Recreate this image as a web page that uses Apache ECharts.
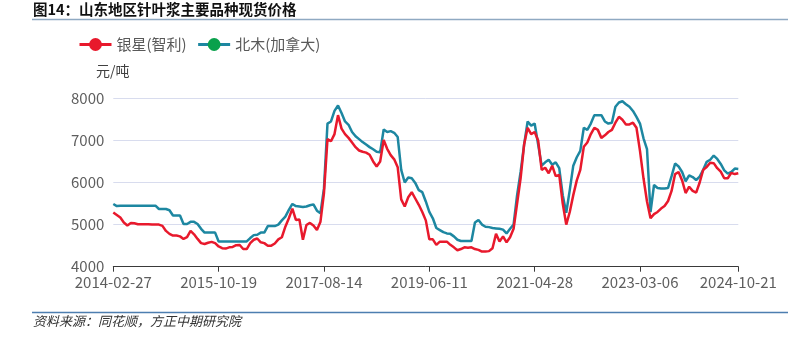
<!DOCTYPE html>
<html>
<head>
<meta charset="utf-8">
<script src="https://cdn.jsdelivr.net/npm/echarts@6/dist/echarts.min.js"></script>
<style>
html,body{margin:0;padding:0;background:#fff;}
#chart{width:788px;height:338px;}
</style>
</head>
<body>
<div id="chart"></div>
<script>
const tickDates = ['2014-02-27','2015-10-19','2017-08-14','2019-06-11','2021-04-28','2023-03-06','2024-10-21'];
const tickIndex = [0,30,60,90,120,150,178];
const yTicks = [4000,5000,6000,7000,8000];

const beimu = [
5490,5440,5450,5450,5450,5450,5450,5450,5450,5450,
5450,5450,5450,5370,5370,5370,5340,5215,5215,5215,
5015,5015,5065,5065,5015,4900,4810,4810,4810,4810,
4600,4600,4600,4600,4600,4600,4600,4600,4600,4680,
4750,4760,4810,4810,4965,4965,4965,5000,5100,5190,
5350,5490,5440,5430,5420,5430,5460,5480,5330,5270,
5860,7400,7450,7700,7830,7650,7450,7370,7200,7100,
7030,6960,6900,6840,6790,6730,6720,7260,7200,7220,
7180,7080,6300,6000,6120,6100,5990,5820,5770,5550,
5300,5150,4920,4870,4820,4790,4780,4720,4640,4610,
4610,4610,4610,5050,5110,5000,4950,4940,4920,4910,
4900,4880,4790,4900,5000,5700,6250,6900,7450,7350,
7400,6900,6400,6480,6540,6420,6480,6340,5700,5280,
5820,6400,6600,6750,7300,7250,7400,7600,7600,7600,
7450,7400,7420,7800,7900,7930,7860,7800,7700,7560,
7400,7050,6790,5300,5940,5870,5860,5860,5870,6150,
6450,6380,6250,6030,6170,6130,6060,6140,6300,6490,
6540,6640,6560,6440,6290,6210,6250,6330,6320
];

const yinxing = [
5290,5230,5170,5050,4980,5040,5030,5010,5010,5010,
5010,5000,5000,5000,4970,4850,4780,4740,4740,4720,
4660,4700,4850,4770,4660,4560,4540,4570,4590,4560,
4480,4440,4430,4460,4470,4510,4515,4420,4420,4560,
4640,4670,4580,4560,4500,4500,4550,4650,4700,4950,
5150,5380,5110,5120,4640,4990,5040,4980,4870,5070,
5750,7030,6980,7150,7600,7280,7150,7060,6950,6840,
6760,6730,6710,6660,6500,6380,6500,7010,6800,6650,
6550,6360,5600,5430,5650,5770,5620,5470,5300,5100,
4650,4650,4520,4595,4595,4595,4520,4460,4390,4420,
4460,4450,4460,4420,4400,4360,4360,4370,4440,4780,
4600,4720,4580,4700,4900,5500,6100,6900,7300,7150,
7200,7000,6300,6350,6220,6400,6150,6180,5500,5000,
5300,5700,6050,6300,6850,6950,7150,7300,7250,7060,
7120,7200,7250,7420,7560,7490,7380,7380,7420,7300,
6750,6100,5550,5150,5250,5300,5380,5440,5560,5800,
6200,6250,6050,5750,5900,5800,5760,6000,6300,6370,
6470,6460,6340,6260,6100,6100,6230,6200,6220
];

const N = yinxing.length;
const categories = [];
for (let i = 0; i < N; i++) {
  const k = tickIndex.indexOf(i);
  categories.push(k >= 0 ? tickDates[k] : 'p' + i);
}
const FONT = '"Noto Sans CJK SC", "Noto Sans", sans-serif';
const isTick = (i) => tickIndex.indexOf(i) >= 0;

const chart = echarts.init(document.getElementById('chart'), null, {renderer: 'canvas'});
chart.setOption({
  animation: false,
  backgroundColor: '#fff',
  textStyle: {fontFamily: FONT},
  grid: {left: 113.3, right: 49.7, top: 98.3, bottom: 71.3, containLabel: false},
  legend: {
    left: 73, top: 32,
    itemWidth: 32, itemHeight: 16, itemGap: 10,
    lineStyle: {width: 3},
    textStyle: {fontSize: 15, color: '#595959', fontFamily: FONT},
    data: ['银星(智利)', '北木(加拿大)']
  },
  xAxis: {
    type: 'category',
    data: categories,
    boundaryGap: false,
    axisLine: {lineStyle: {color: '#3a3a3a', width: 1}},
    axisTick: {interval: isTick, length: 5, lineStyle: {color: '#3a3a3a'}},
    axisLabel: {
      interval: isTick,
      formatter: (v) => (tickDates.indexOf(v) >= 0 ? v : ''),
      color: '#5e5e5e', fontSize: 15, margin: 8, fontFamily: FONT
    },
    splitLine: {show: false}
  },
  yAxis: {
    type: 'value',
    min: yTicks[0], max: yTicks[yTicks.length - 1], interval: 1000,
    axisLine: {show: false},
    axisTick: {show: false},
    axisLabel: {color: '#5e5e5e', fontSize: 15, margin: 9, fontFamily: FONT, formatter: (v) => String(v)},
    splitLine: {lineStyle: {color: '#d8dcee', width: 1}}
  },
  series: [
    {
      name: '银星(智利)', type: 'line', data: yinxing,
      symbol: 'circle', symbolSize: 13, showSymbol: false,
      itemStyle: {color: '#e8192c'},
      lineStyle: {color: '#e8192c', width: 2.5},
      z: 3
    },
    {
      name: '北木(加拿大)', type: 'line', data: beimu,
      symbol: 'circle', symbolSize: 13, showSymbol: false,
      itemStyle: {color: '#0aa14c'},
      lineStyle: {color: '#1d87a1', width: 2.5},
      z: 2
    }
  ],
  graphic: [
    {type: 'text', left: 33, top: 2, style: {text: '图14：山东地区针叶浆主要品种现货价格', font: 'bold 14.5px ' + FONT, fill: '#111'}},
    {type: 'line', shape: {x1: 32, y1: 19.5, x2: 788, y2: 19.5}, style: {stroke: '#8fa9c2', lineWidth: 1.5}},
    {type: 'text', left: 96, top: 64, style: {text: '元/吨', font: '14px ' + FONT, fill: '#404040'}},
    {type: 'line', shape: {x1: 32, y1: 312.5, x2: 788, y2: 312.5}, style: {stroke: '#4d7eb0', lineWidth: 1.5}},
    {type: 'text', left: 33, top: 315, style: {text: '资料来源：同花顺，方正中期研究院', font: 'italic 13px ' + FONT, fill: '#333'}}
  ]
});
</script>
</body>
</html>
